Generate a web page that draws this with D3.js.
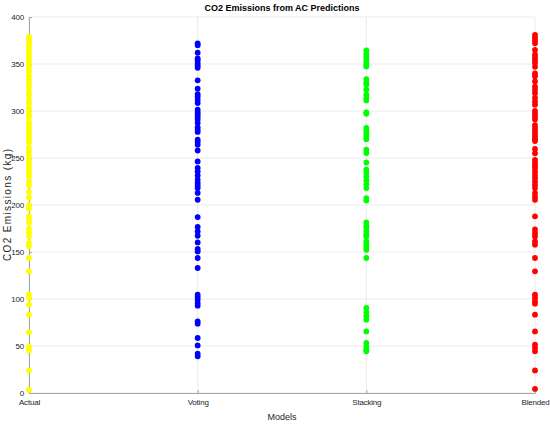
<!DOCTYPE html>
<html>
<head>
<meta charset="utf-8">
<script src="https://cdn.jsdelivr.net/npm/d3@7"></script>
<style>
  body { margin: 0; background: #fff; }
  svg text { font-family: "Liberation Sans", Arial, sans-serif; }
</style>
</head>
<body>
<svg id="chart" width="550" height="427"></svg>
<script>
// categories and colours
let models = ["Actual", "Voting", "Stacking", "Blended"];
let colors = ["#ffff00", "#0000ff", "#00ff00", "#ff0000"];
let yTicks = [0, 50, 100, 150, 200, 250, 300, 350, 400];

// CO2 values (kg)
let actual = [379, 376, 373, 370, 367, 364, 360, 357, 354, 351, 348, 345, 342, 337, 333, 329, 325, 320, 317, 312,
  308, 303, 300, 296, 293, 288, 285, 282, 279, 276, 273, 270, 267, 261, 257, 253, 248, 245, 241, 237, 233, 230,
  225, 221, 214, 208, 200, 196, 188, 184, 181, 174.5, 170, 166.6, 159.6, 156, 143.6, 129.4, 104.6, 101.1, 94,
  83.3, 64.5, 49.6, 45.3, 24, 3.5];
let voting = [372, 370, 362, 356, 354, 351, 348.5, 346, 332.6, 323.7, 318, 315.5, 312, 308.5, 301.4, 298.5, 296,
  293.6, 290.7, 287.2, 282.6, 280, 277.7, 269.5, 267, 264, 258, 246.4, 239.4, 235.7, 231.5, 226.9, 223.4, 220.5,
  218, 212.8, 205.6, 187.2, 176.6, 171.9, 167.3, 160.2, 153.2, 150.6, 143.6, 133, 104.6, 102.1, 99.3, 95.7, 92.9,
  76.2, 73.7, 58.5, 50.6, 41.8, 39];
let stacking = [364.5, 361, 358, 355, 352, 349, 347.4, 334, 330.4, 328, 322.7, 317.3, 313.8, 311.3, 298.5, 297.1,
  282, 279, 276, 273, 270, 258.8, 255.3, 245.3, 237.6, 234, 230, 226, 222, 218, 207.4, 204.9, 181.5, 178, 175.5,
  171.9, 169, 166.6, 161.3, 158, 155, 152.4, 143.6, 90.4, 86, 82, 78, 65.5, 53.2, 49, 46, 44.3];
let blended = [381, 378, 375, 372, 365, 360, 357, 354, 351, 347, 340, 337, 331.5, 326, 322.7, 319, 314, 310, 306.7,
  300, 297, 294, 291, 285, 282, 279, 276, 273, 270, 268, 259.6, 255, 248, 244.7, 242, 239.4, 235.7, 232, 228.7,
  225, 221.5, 218, 212.8, 209, 205.6, 188, 174, 170.2, 166.6, 161.3, 157.8, 143.6, 129.4, 104.6, 101.1, 97.5, 95,
  83.3, 65.5, 51.4, 47.9, 44.3, 24, 4.3];

let series = [actual, voting, stacking, blended];

let svg = d3.select("svg#chart");
let margin = { top: 17, right: 15, bottom: 34, left: 29 };
let chartWidth = 550 - margin.left - margin.right;
let chartHeight = 427 - margin.top - margin.bottom;

let xScale = d3.scalePoint().domain(models).range([0, chartWidth]);
let yScale = d3.scaleLinear().domain([0, 400]).range([chartHeight, 0]);

let g = svg.append("g")
    .attr("transform", "translate(" + margin.left + "," + margin.top + ")");

// grid lines
g.append("g")
    .selectAll("line")
    .data(yTicks)
    .join("line")
    .attr("x1", 0).attr("x2", chartWidth)
    .attr("y1", d => yScale(d)).attr("y2", d => yScale(d))
    .attr("stroke", "#ebebeb").attr("stroke-width", 1);
g.append("g")
    .selectAll("line")
    .data(models)
    .join("line")
    .attr("x1", d => xScale(d)).attr("x2", d => xScale(d))
    .attr("y1", 0).attr("y2", chartHeight)
    .attr("stroke", "#ebebeb").attr("stroke-width", 1);

// axes
let leftAxis = d3.axisLeft(yScale).tickValues(yTicks).tickSizeInner(-3).tickSizeOuter(0).tickPadding(5);
let yAx = g.append("g").call(leftAxis);
let bottomAxis = d3.axisBottom(xScale).tickSizeInner(-3).tickSizeOuter(0).tickPadding(6);
let xAx = g.append("g")
    .attr("transform", "translate(0," + chartHeight + ")")
    .call(bottomAxis);
[yAx, xAx].forEach(a => {
  a.select(".domain").attr("stroke", "#a6a6a6");
  a.selectAll(".tick line").attr("stroke", "#a6a6a6");
  a.selectAll(".tick text").attr("fill", "#262626").attr("font-size", 8)
    .attr("letter-spacing", -0.2);
});
// keep the last category label inside the picture
xAx.selectAll(".tick text").filter(d => d === "Blended")
    .attr("text-anchor", "end").attr("x", 14);

// points
series.forEach((vals, i) => {
  g.append("g")
    .selectAll("circle")
    .data(vals)
    .join("circle")
    .attr("cx", xScale(models[i]))
    .attr("cy", d => yScale(d))
    .attr("r", 2.9)
    .attr("fill", colors[i]);
});

// title and labels
svg.append("text")
    .attr("x", margin.left + chartWidth / 2)
    .attr("y", 11)
    .attr("text-anchor", "middle")
    .attr("font-size", 9)
    .attr("font-weight", "bold")
    .attr("fill", "#000")
    .text("CO2 Emissions from AC Predictions");

svg.append("text")
    .attr("x", margin.left + chartWidth / 2)
    .attr("y", 420)
    .attr("text-anchor", "middle")
    .attr("font-size", 9)
    .attr("fill", "#262626")
    .text("Models");

svg.append("text")
    .attr("transform", "translate(11," + (margin.top + chartHeight / 2) + ") rotate(-90)")
    .attr("text-anchor", "middle")
    .attr("font-size", 10)
    .attr("textLength", 112)
    .attr("lengthAdjust", "spacing")
    .attr("fill", "#262626")
    .text("CO2 Emissions (kg)");
</script>
</body>
</html>
